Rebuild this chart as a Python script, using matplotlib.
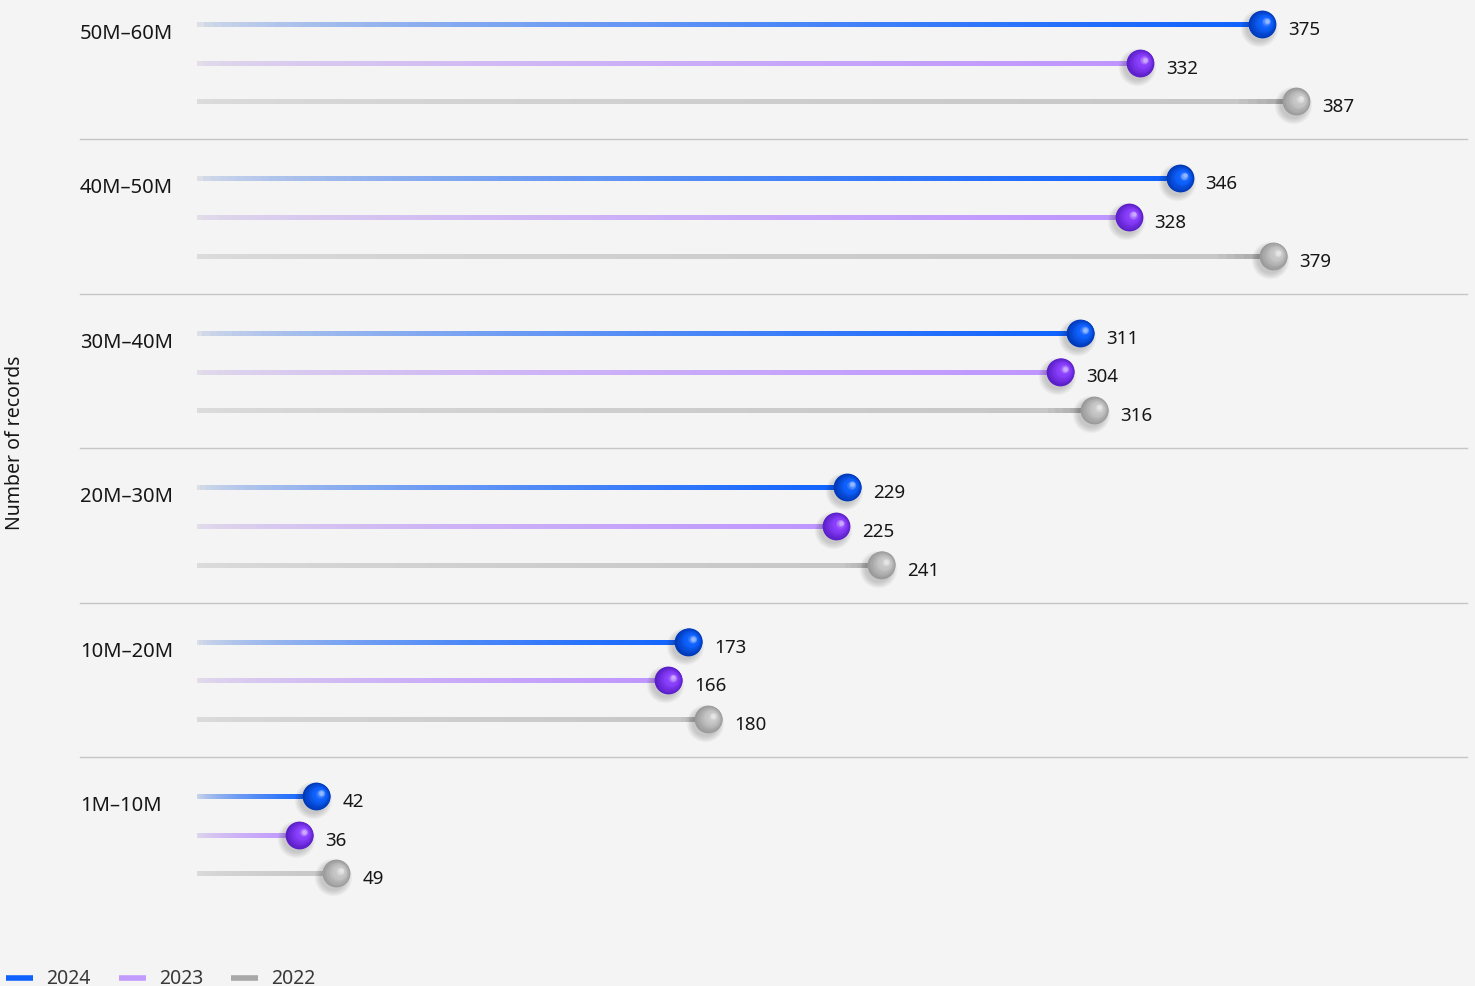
import numpy as np
import matplotlib
matplotlib.use("Agg")
import matplotlib.pyplot as plt
from matplotlib.collections import LineCollection
from matplotlib.colors import to_rgb
from matplotlib.transforms import offset_copy

# data
groups = ["50M–60M", "40M–50M", "30M–40M", "20M–30M", "10M–20M", "1M–10M"]
years = ["2024", "2023", "2022"]
v2024 = [375, 346, 311, 229, 173, 42]
v2023 = [332, 328, 304, 225, 166, 36]
v2022 = [387, 379, 316, 241, 180, 49]

line_cols = ["#0f62fe", "#be95ff", "#c6c6c6"]
ball_cols = ["#0f62fe", "#8a3ffc", "#c6c6c6"]
dark_cols = ["#0039b8", "#5a1ec8", "#9a9a9a"]
start_cols = ["#dcdfe6", "#e2dde9", "#dcdcdc"]
legend_cols = ["#0f62fe", "#c29bff", "#a8a8a8"]
bg = "#f4f4f4"

plt.rcParams['font.family'] = ['Noto Sans', 'DejaVu Sans']

fig = plt.figure(figsize=(14.75, 9.87), dpi=100)
fig.patch.set_facecolor(bg)

# decoration axes in pixel units
deco = fig.add_axes([0, 0, 1, 1])
deco.set_xlim(0, 1475)
deco.set_ylim(987, 0)
deco.axis("off")

ax = fig.add_axes([197 / 1475, 0, (1475 - 197) / 1475, 1])
ax.set_facecolor("none")
ax.set_xlim(0, 1278 / 2.84)
ax.set_ylim(987, 0)
ax.axis("off")

top = 25
g_step = 154.4
r_step = 38.7

values = [v2024, v2023, v2022]

def lerp(c1, c2, t):
    a = np.array(to_rgb(c1))
    b = np.array(to_rgb(c2))
    return a + (b - a) * t

def draw_ball(x, y, base, dark):
    # soft shadow
    for k in range(6):
        sh = offset_copy(ax.transData, fig=fig, x=-3, y=-4, units='dots')
        ax.plot([x], [y], "o", ms=19 + k * 1.6, color="#000000",
                alpha=0.03, mew=0, transform=sh, zorder=3)
    # sphere layers dark -> light, moving towards upper right
    n = 16
    for i in range(n):
        t = i / (n - 1)
        col = lerp(dark, base, min(1, t * 1.6))
        if t > 0.75:
            col = lerp(base, "#ffffff", (t - 0.75) * 2.2)
        size = 20 * (1 - 0.85 * t)
        tr = offset_copy(ax.transData, fig=fig, x=5 * t, y=3 * t, units='dots')
        ax.plot([x], [y], "o", ms=size, color=col, mew=0, transform=tr, zorder=4 + i * 0.01)

for g, name in enumerate(groups):
    gy = top + g * g_step
    deco.text(80, gy + 9, name, fontsize=14.5, color="#161616", va="center", ha="left")
    if g > 0:
        deco.plot([80, 1467], [gy - 39, gy - 39], color="#c6c6c6", lw=1, zorder=1)
    for r in range(3):
        y = gy + r * r_step
        v = values[r][g]
        n = 120
        xs = np.linspace(0, v, n + 1)
        segs = [[(xs[i], y), (xs[i + 1], y)] for i in range(n)]
        ts = np.linspace(0, 1, n) ** 0.6
        if r == 2:
            cols = [lerp(start_cols[r], line_cols[r], t) if t < 0.97 else lerp(line_cols[r], "#8d8d8d", (t - 0.97) * 20) for t in ts]
        else:
            cols = [lerp(start_cols[r], line_cols[r], t) for t in ts]
        ax.add_collection(LineCollection(segs, colors=cols, linewidths=3.6, capstyle="projecting", zorder=2))
        draw_ball(v, y, ball_cols[r], dark_cols[r])
        lab = offset_copy(ax.transData, fig=fig, x=26, y=-5, units='dots')
        ax.text(v, y, str(v), fontsize=13.5, color="#161616", va="center", ha="left", transform=lab)

deco.text(15, 443, "Number of records", rotation=90, fontsize=14, color="#161616",
          va="center", ha="center")

# legend
lx = [6, 119, 231]
for i, yr in enumerate(years):
    deco.plot([lx[i], lx[i] + 27], [979, 979], color=legend_cols[i], lw=4, solid_capstyle="butt")
    deco.text(lx[i] + 40, 979, yr, fontsize=14, color="#393939", va="center", ha="left")

fig.savefig("out.png", dpi=100, facecolor=bg)
